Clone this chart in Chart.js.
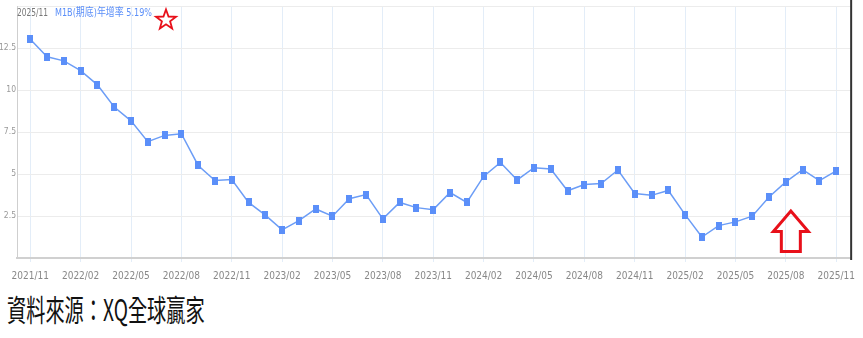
<!DOCTYPE html>
<html lang="zh-Hant">
<head>
<meta charset="UTF-8">
<title>M1B(期底)年增率</title>
<script src="https://cdn.jsdelivr.net/npm/chart.js@4.4.1/dist/chart.umd.min.js"></script>
<style>
  body { margin: 0; background: #fff; width: 863px; height: 338px; overflow: hidden; position: relative; }
  #caja { position: absolute; left: 0; top: 0; width: 863px; height: 282px; }
  #fuente {
    position: absolute; left: 7px; top: 293px; margin: 0;
    font-family: "Noto Sans CJK TC", sans-serif; font-size: 30px; line-height: 30px;
    color: #111; white-space: nowrap;
    transform: scaleX(0.64); transform-origin: left top;
  }
</style>
</head>
<body>
<div id="caja"><canvas id="grafica"></canvas></div>
<p id="fuente">資料來源：XQ全球贏家</p>
<script>
// meses (categorías)
const meses = [
  "2021/11", "2021/12", "2022/01", "2022/02", "2022/03", "2022/04", "2022/05", "2022/06",
  "2022/07", "2022/08", "2022/09", "2022/10", "2022/11", "2022/12", "2023/01", "2023/02",
  "2023/03", "2023/04", "2023/05", "2023/06", "2023/07", "2023/08", "2023/09", "2023/10",
  "2023/11", "2023/12", "2024/01", "2024/02", "2024/03", "2024/04", "2024/05", "2024/06",
  "2024/07", "2024/08", "2024/09", "2024/10", "2024/11", "2024/12", "2025/01", "2025/02",
  "2025/03", "2025/04", "2025/05", "2025/06", "2025/07", "2025/08", "2025/09", "2025/10",
  "2025/11"
];
// M1B(期底)年增率 %
const m1b = [
  13.02, 11.98, 11.74, 11.16, 10.31, 8.99, 8.17, 6.93,
  7.30, 7.40, 5.51, 4.61, 4.67, 3.31, 2.55, 1.68,
  2.23, 2.92, 2.49, 3.53, 3.78, 2.33, 3.31, 3.00,
  2.88, 3.90, 3.31, 4.86, 5.69, 4.65, 5.38, 5.30,
  4.00, 4.37, 4.43, 5.24, 3.84, 3.73, 4.02, 2.58,
  1.25, 1.93, 2.15, 2.49, 3.63, 4.53, 5.26, 4.61,
  5.19
];
// marcas del eje y
const marcasY = [2.5, 5, 7.5, 10, 12.5];
// meses con etiqueta en el eje x (cada 3 meses)
const mesesEtiqueta = ["2021/11", "2022/02", "2022/05", "2022/08", "2022/11", "2023/02", "2023/05",
  "2023/08", "2023/11", "2024/02", "2024/05", "2024/08", "2024/11", "2025/02", "2025/05",
  "2025/08", "2025/11"];
const ultimoMes = "2025/11";
const ultimoValor = "5.19%";
const mesFlecha = "2025/08";

const azul = '#5b8ff9';
const fuenteAngosta = '"Liberation Sans Narrow", "DejaVu Sans Condensed", "Noto Sans", sans-serif';

// punto rectangular
const punto = document.createElement('canvas');
punto.width = 6; punto.height = 8;
const pctx = punto.getContext('2d');
pctx.fillStyle = azul;
pctx.fillRect(0, 0, 6, 8);

const datos = m1b.map((v, i) => ({ x: i, y: v }));

// texto comprimido a un ancho dado
function textoAncho(ctx, txt, x, y, ancho) {
  const w = ctx.measureText(txt).width;
  ctx.save();
  ctx.translate(x, y);
  ctx.scale(Math.min(1, ancho / w), 1);
  ctx.fillText(txt, 0, 0);
  ctx.restore();
}

// titulo, estrella, flecha y borde derecho
const adornos = {
  id: 'adornos',
  afterDraw(chart) {
    const ctx = chart.ctx;
    const area = chart.chartArea;
    ctx.save();
    // borde derecho oscuro
    ctx.strokeStyle = '#333';
    ctx.lineWidth = 2;
    ctx.beginPath();
    ctx.moveTo(area.right, 0);
    ctx.lineTo(area.right, area.bottom + 2);
    ctx.stroke();

    // titulo
    ctx.textBaseline = 'middle';
    ctx.font = '11px ' + fuenteAngosta;
    ctx.fillStyle = '#777';
    textoAncho(ctx, ultimoMes, 17, 13, 31);
    ctx.fillStyle = azul;
    ctx.font = '11px ' + fuenteAngosta + ', "Noto Sans CJK TC"';
    textoAncho(ctx, 'M1B(期底)年增率 ' + ultimoValor, 55, 13, 97);

    // estrella
    const cx = 166, cy = 20, ro = 10.5, ri = 4.3;
    ctx.strokeStyle = '#e8101a';
    ctx.lineWidth = 1.8;
    ctx.beginPath();
    for (let k = 0; k < 10; k++) {
      const r = k % 2 === 0 ? ro : ri;
      const a = -Math.PI / 2 + k * Math.PI / 5;
      const px = cx + r * Math.cos(a), py = cy + r * Math.sin(a);
      if (k === 0) ctx.moveTo(px, py); else ctx.lineTo(px, py);
    }
    ctx.closePath();
    ctx.stroke();

    // flecha hacia arriba
    const fx = chart.scales.x.getPixelForValue(meses.indexOf(mesFlecha)) + 5;
    const top = 211, base = 231.5, fondo = 251.5;
    ctx.lineWidth = 3;
    ctx.lineJoin = 'miter';
    ctx.beginPath();
    ctx.moveTo(fx, top);
    ctx.lineTo(fx + 17.5, base);
    ctx.lineTo(fx + 9.5, base);
    ctx.lineTo(fx + 9.5, fondo);
    ctx.lineTo(fx - 9.5, fondo);
    ctx.lineTo(fx - 9.5, base);
    ctx.lineTo(fx - 17.5, base);
    ctx.closePath();
    ctx.stroke();
    ctx.restore();
  }
};

const $grafica = document.querySelector('#grafica');
new Chart($grafica, {
  type: 'line',
  data: {
    datasets: [{
      data: datos,
      borderColor: '#6c9df6',
      borderWidth: 1.5,
      pointStyle: punto,
      pointRadius: 4,
      pointHoverRadius: 4,
      tension: 0,
      clip: false
    }]
  },
  options: {
    responsive: true,
    maintainAspectRatio: false,
    animation: false,
    layout: { padding: { left: 0, right: 6, top: 5, bottom: 0 } },
    plugins: { legend: { display: false }, tooltip: { enabled: false }, title: { display: false } },
    scales: {
      x: {
        type: 'linear',
        min: -0.79,
        max: 48.89,
        afterBuildTicks(scale) {
          scale.ticks = mesesEtiqueta.map(m => ({ value: meses.indexOf(m) }));
        },
        afterFit(scale) { scale.height = 24; },
        ticks: {
          autoSkip: false,
          maxRotation: 0,
          padding: 8,
          color: '#888',
          font: { family: fuenteAngosta, size: 10 },
          callback: (v) => meses[v] || ''
        },
        grid: { color: '#e3edf8', lineWidth: 1, tickLength: 4, drawTicks: true },
        border: { color: '#d0d0d0', width: 2 }
      },
      y: {
        min: 0,
        max: 15,
        afterBuildTicks(scale) {
          scale.ticks = [0].concat(marcasY, [15]).map(v => ({ value: v }));
        },
        afterFit(scale) { scale.width = 17; },
        ticks: {
          padding: 1,
          color: '#999',
          font: { family: fuenteAngosta, size: 8.5 },
          callback: (v) => marcasY.includes(v) ? String(v) : ''
        },
        grid: { color: '#ececec', lineWidth: 1, drawTicks: false },
        border: { color: '#cfcfcf', width: 1 }
      }
    }
  },
  plugins: [adornos]
});
</script>
</body>
</html>
